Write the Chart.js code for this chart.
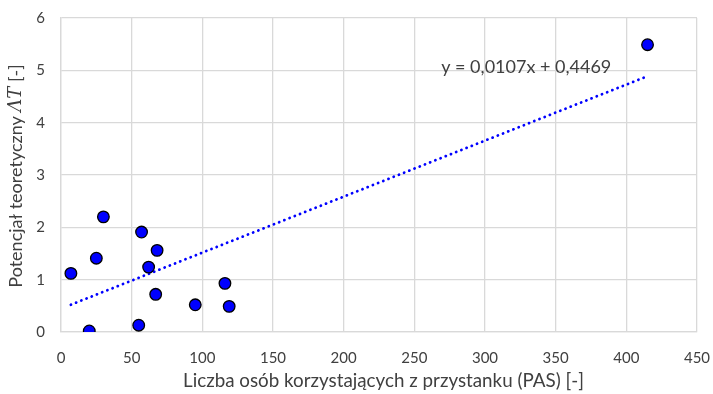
<!DOCTYPE html>
<html>
<head>
<meta charset="utf-8">
<script src="https://cdn.jsdelivr.net/npm/chart.js@4"></script>
<style>
  html, body { margin: 0; padding: 0; background: #fff; }
  #wrap { width: 713px; height: 394px; }
</style>
</head>
<body>
<div id="wrap"><canvas id="c" width="713" height="394"></canvas></div>
<script>
// Passenger counts per stop (PAS) and theoretical potential ΛT
const pasValues = [30, 57, 68, 25, 62, 7, 116, 67, 95, 119, 55, 20, 415];
const potentialValues = [2.20, 1.91, 1.56, 1.41, 1.24, 1.12, 0.93, 0.72, 0.52, 0.49, 0.13, 0.02, 5.49];

// Linear trend as stated by the equation label
const trendSlope = 0.0107;
const trendIntercept = 0.4469;
const trendLabel = 'y = 0,0107x + 0,4469';

const xTicks = [0, 50, 100, 150, 200, 250, 300, 350, 400, 450];
const yTicks = [0, 1, 2, 3, 4, 5, 6];

const xTitle = 'Liczba osób korzystających z przystanku (PAS) [-]';
const yTitleMain = 'Potencjał teoretyczny ';
const yTitleSymbol = 'ΛT';
const yTitleUnit = ' [-]';

const points = pasValues.map((x, i) => ({ x, y: potentialValues[i] }));
const xMin = Math.min(...pasValues);
const xMax = Math.max(...pasValues);
const trendPoints = [xMin, xMax].map(x => ({ x, y: trendSlope * x + trendIntercept }));

const FONT = 'Lato, "Open Sans", sans-serif';
const TEXT = '#404040';

// Axis titles (the y title carries an italic symbol) and the equation label
const annotations = {
  id: 'annotations',
  afterDraw(chart) {
    const { ctx, chartArea, scales } = chart;
    ctx.save();
    ctx.fillStyle = TEXT;
    ctx.textBaseline = 'middle';

    // equation
    ctx.font = '18px ' + FONT;
    ctx.textAlign = 'left';
    ctx.fillText(trendLabel, scales.x.getPixelForValue(269), scales.y.getPixelForValue(5.06));

    // x title
    ctx.font = '18.8px ' + FONT;
    ctx.textAlign = 'center';
    ctx.fillText(xTitle, chart.width / 2 + 27, chart.height - 13);

    // y title
    ctx.textAlign = 'left';
    const mainFont = '18px ' + FONT;
    const symFont = 'italic 18px "DejaVu Serif", serif';
    ctx.font = mainFont;
    const w1 = ctx.measureText(yTitleMain).width;
    const w3 = ctx.measureText(yTitleUnit).width;
    ctx.font = symFont;
    const w2 = ctx.measureText(yTitleSymbol).width;
    const total = w1 + w2 + w3;
    const cy = (chartArea.top + chartArea.bottom) / 2 + 1;
    ctx.translate(16, cy);
    ctx.rotate(-Math.PI / 2);
    let x = -total / 2;
    ctx.font = mainFont;
    ctx.fillText(yTitleMain, x, 0); x += w1;
    ctx.font = symFont;
    ctx.fillText(yTitleSymbol, x, 0); x += w2;
    ctx.font = mainFont;
    ctx.fillText(yTitleUnit, x, 0);
    ctx.restore();
  }
};

new Chart(document.getElementById('c'), {
  type: 'scatter',
  data: {
    datasets: [
      {
        label: 'PAS',
        data: points,
        backgroundColor: '#0000FF',
        borderColor: '#000000',
        borderWidth: 1.3,
        pointRadius: 5.8,
        order: 1
      },
      {
        label: 'Trend',
        type: 'line',
        data: trendPoints,
        borderColor: '#0000FF',
        borderWidth: 2.8,
        borderDash: [0.1, 5.5],
        borderCapStyle: 'round',
        pointRadius: 0,
        fill: false,
        order: 2
      }
    ]
  },
  options: {
    responsive: false,
    animation: false,
    layout: { padding: { left: 0, right: 16, top: 18, bottom: 0 } },
    plugins: {
      legend: { display: false },
      tooltip: { enabled: false }
    },
    scales: {
      x: {
        type: 'linear',
        min: 0,
        max: 450,
        afterBuildTicks(axis) { axis.ticks = xTicks.map(v => ({ value: v })); },
        afterFit(axis) {
          axis.height = 62;
          axis.paddingLeft = 0; axis.paddingRight = 0;
        },
        grid: { color: '#D9D9D9', lineWidth: 1.3, drawTicks: false },
        border: { color: '#D9D9D9', width: 1.3 },
        ticks: { color: TEXT, font: { family: FONT, size: 15 }, padding: 17, maxRotation: 0 }
      },
      y: {
        type: 'linear',
        min: 0,
        max: 6,
        afterBuildTicks(axis) { axis.ticks = yTicks.map(v => ({ value: v })); },
        afterFit(axis) {
          axis.width = 61;
          axis.paddingTop = 0; axis.paddingBottom = 0;
        },
        grid: { color: '#D9D9D9', lineWidth: 1.3, drawTicks: false },
        border: { color: '#D9D9D9', width: 1.3 },
        ticks: { color: TEXT, font: { family: FONT, size: 15 }, padding: 16 }
      }
    }
  },
  plugins: [annotations]
});
</script>
</body>
</html>
